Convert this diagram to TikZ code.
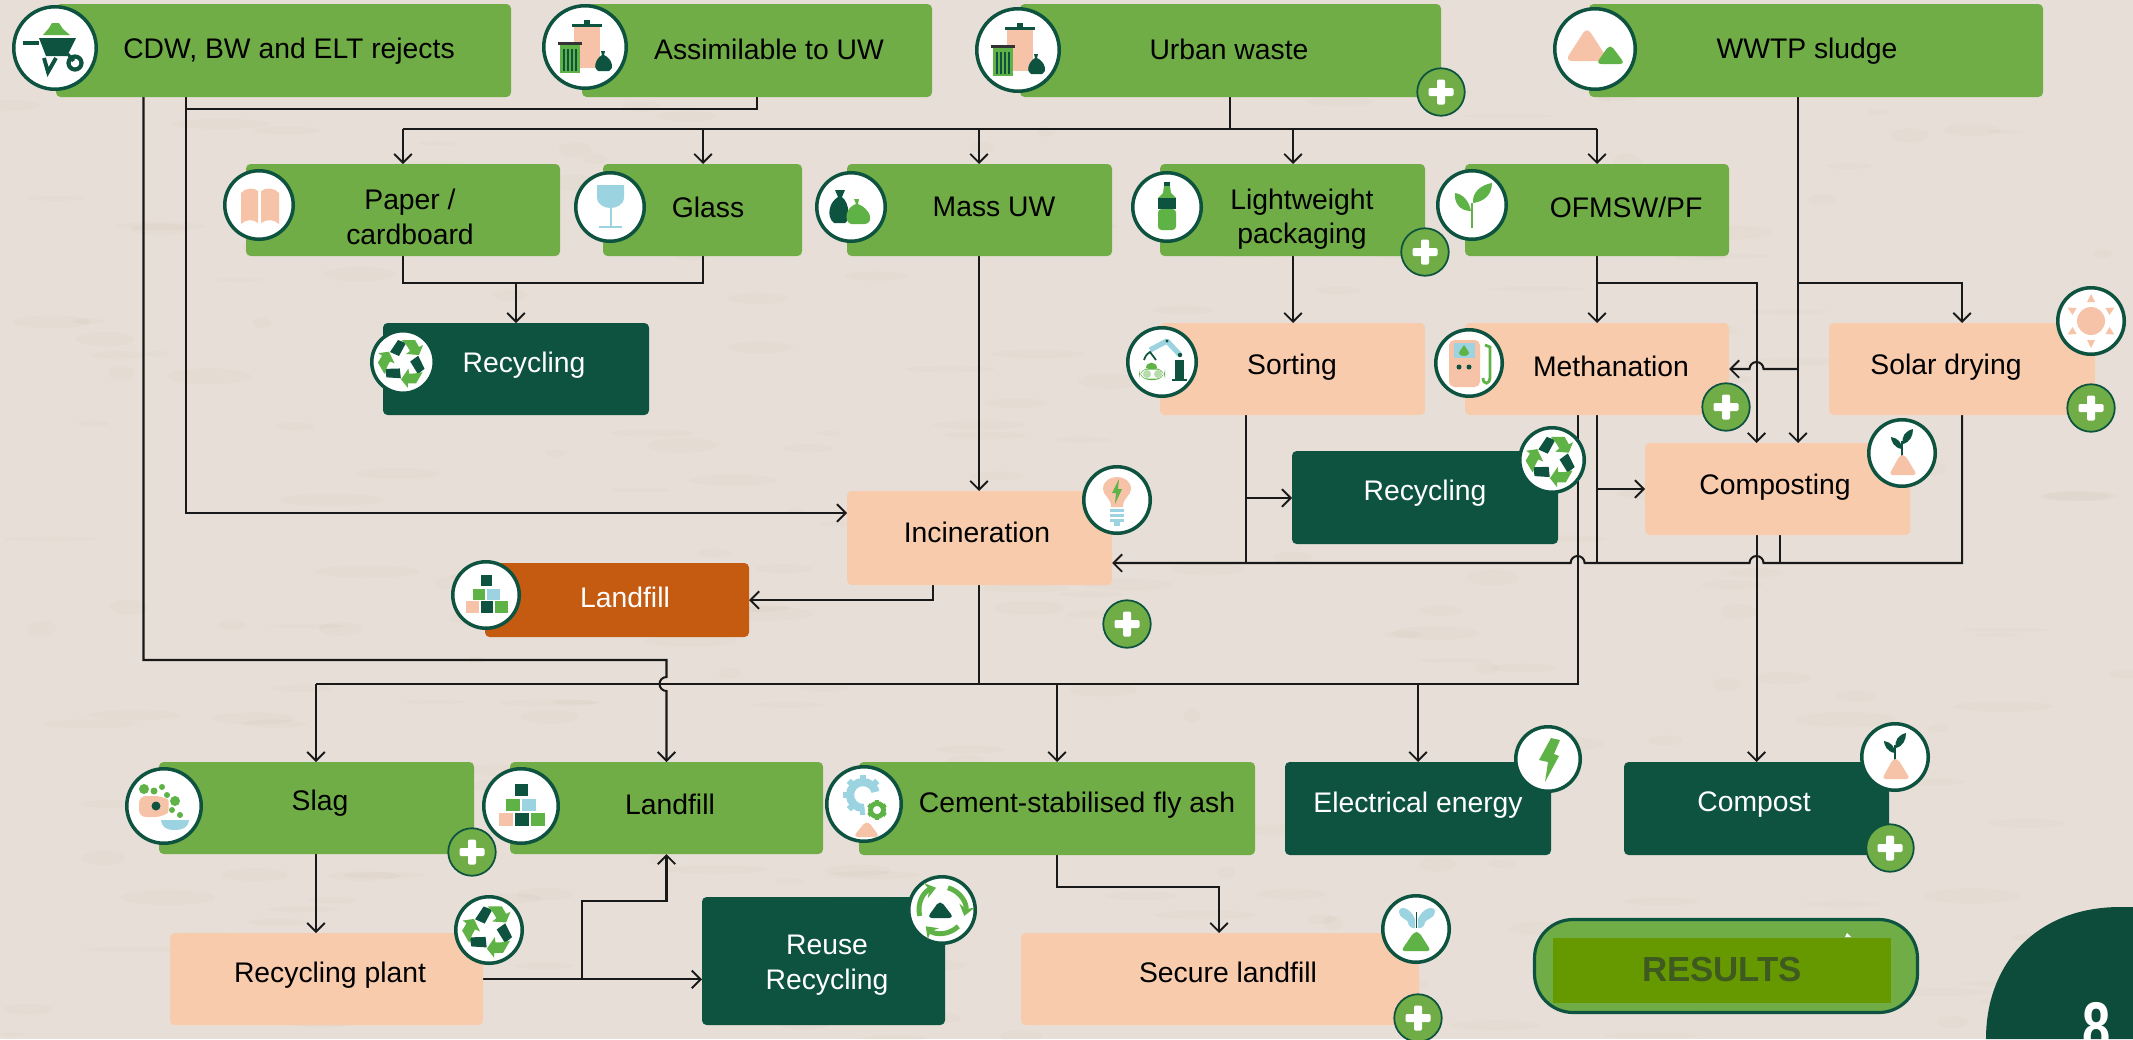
\documentclass[tikz,border=0pt]{standalone}
\usepackage{fontspec}
\setmainfont{Liberation Sans}
\usetikzlibrary{arrows.meta,calc}
\definecolor{gn}{HTML}{70AD47}
\definecolor{dk}{HTML}{0E5340}
\definecolor{pc}{HTML}{F8CBAD}
\definecolor{orng}{HTML}{C55A11}
\definecolor{paper}{HTML}{E7DFD7}
\definecolor{ign}{HTML}{5FB246}
\definecolor{blu}{HTML}{9BD3E0}
\definecolor{ipc}{HTML}{F6C3A9}
\definecolor{resin}{HTML}{669900}
\definecolor{restx}{HTML}{3E5A20}
\pgfdeclarelayer{back}
\pgfdeclarelayer{lines}
\pgfsetlayers{back,lines,main}
\tikzset{
  boxbase/.style={rectangle,rounded corners=1.3pt,inner sep=0pt,outer sep=0pt},
  boxg/.style={boxbase,fill=gn},
  boxd/.style={boxbase,fill=dk},
  boxp/.style={boxbase,fill=pc},
  boxo/.style={boxbase,fill=orng},
  txtk/.style={inner sep=0pt,align=center,font=\fontsize{8.05}{9.8}\selectfont},
  iconc/.style={circle,fill=white,draw=dk,line width=1pt,inner sep=0pt,outer sep=0pt},
  plusc/.style={circle,fill=gn,draw=dk,line width=.5pt,inner sep=0pt,outer sep=0pt,minimum size=13.5pt},
  conn/.style={draw=black!90,line width=.58pt,line join=miter},
  arr/.style={conn,-{Straight Barb[length=2.5pt,width=5pt,line width=.55pt]}},
  pics/ictrash/.style={code={
    \fill[ipc] (-11,-20) rectangle (15,21);
    \fill[dk] (-13,-23) rectangle (17,-20);
    \fill[dk] (-1,-27) rectangle (5,-23);
    \fill[ign] (-25,-2) rectangle (-5,26);
    \fill[black!80] (-27,-5) rectangle (-3,-2);
    \foreach \q in {-22,-18,-14,-10}{\fill[dk] (\q,2) rectangle (\q+1.5,24);}
    \fill[dk] (16,4) -- (20,4) -- (19,8) .. controls (28,12) and (29,23) .. (24,24) -- (13,24) .. controls (8,22) and (10,12) .. (17,8) -- cycle;
  }},
  pics/icbarrow/.style={code={
    \fill[ign] (-12,-13) -- (-6,-20) -- (-3,-25) -- (4,-25) -- (8,-19) -- (15,-13) -- cycle;
    \fill[dk] (-16,-10) -- (21,-10) -- (12,8) -- (-9,8) -- cycle;
    \fill[dk] (-32,-7) rectangle (-16,-3);
    \draw[dk,line width=1.1pt] (-11,10) -- (-7,24) -- (1,10);
    \draw[dk,line width=1.2pt] (20,15) circle (6.5);
    \fill[dk] (11,6) -- (14,5) -- (20,12) -- (17,14) -- cycle;
  }},
  pics/icbook/.style={code={
    \fill[ipc] (-18,-12) .. controls (-14,-17) and (-5,-18) .. (-1,-14) -- (-1,18) .. controls (-6,14) and (-13,14) .. (-18,19) -- cycle;
    \fill[ipc] (20,-12) .. controls (16,-17) and (7,-18) .. (2,-14) -- (2,18) .. controls (7,14) and (15,14) .. (20,19) -- cycle;
  }},
  pics/icglass/.style={code={
    \fill[blu] (-13,-22) -- (14,-22) -- (14,-10) .. controls (14,-2) and (6,1) .. (.5,1) .. controls (-5,1) and (-13,-2) .. (-13,-10) -- cycle;
    \fill[blu] (-.5,0) rectangle (1.5,19);
    \fill[blu] (-11,18.5) rectangle (12,21);
  }},
  pics/icbag/.style={code={
    \fill[dk] (-16,-17) -- (-6,-17) -- (-9,-10) .. controls (-1,-4) and (-1,14) .. (-6,16) -- (-17,16) .. controls (-25,10) and (-22,-5) .. (-13,-10) -- cycle;
    \fill[ign] (3,-8) -- (8,-8) -- (7,-3) .. controls (20,2) and (23,16) .. (14,17) -- (0,17) .. controls (-8,14) and (-5,0) .. (5,-3) -- cycle;
  }},
  pics/icbottle/.style={code={
    \fill[dk] (-3,-25) rectangle (3,-21);
    \fill[ign] (-3,-21) -- (3,-21) -- (4,-14) -- (9,-9) -- (-9,-9) -- (-4,-14) -- cycle;
    \fill[dk] (-9,-9) rectangle (9,2);
    \fill[ign,rounded corners=1pt] (-9,2) -- (9,2) -- (9,23) -- (-9,23) -- cycle;
  }},
  pics/icsprout/.style={code={
    \draw[ign,line width=.8pt] (0,23) -- (0,-2);
    \fill[ign] (-1,6) .. controls (-3,-4) and (-9,-11) .. (-17,-12) .. controls (-18,-3) and (-13,6) .. (-1,6);
    \fill[ign] (1,-2) .. controls (9,-3) and (20,-8) .. (20,-22) .. controls (8,-20) and (0,-12) .. (1,-2);
  }},
  pics/icmount/.style={code={
    \fill[ipc,rounded corners=2pt] (-30,12) -- (-8,-22) -- (14,12) -- cycle;
    \fill[ign,rounded corners=1.5pt] (1,15) -- (15,-5) -- (30,15) -- cycle;
  }},
  pics/icrecycle/.style={code={
    \foreach \a in {0,120,240}{
      \begin{scope}[rotate=\a]
        \fill[dk] (-13,-10) -- (-5,-22) -- (3,-19) -- (-4,-6) -- cycle;
        \fill[ign] (-1,-22) -- (12,-22) -- (16,-15) -- (20,-17) -- (16,-7) -- (3,-8) -- (7,-11) -- (4,-16) -- cycle;
      \end{scope}
    }
  }},
  pics/icgear/.style={code={
    \draw[blu,line width=2.3pt] (-1,-9) circle (13);
    \foreach \a in {0,45,...,315}{\fill[blu,rotate around={\a:(-1,-9)}] (-4,-29) rectangle (2,-23);}
    \fill[white] (-1,-9) -- (24,-15) -- (24,16) -- (2,16) -- cycle;
    \draw[ign,line width=1.4pt] (13,6) circle (6.5);
    \foreach \a in {0,60,...,300}{\fill[ign,rotate around={\a:(13,6)}] (11,-4) rectangle (15,-1);}
    \fill[ipc,rounded corners=1.5pt] (-11,33) -- (3,16) -- (16,33) -- cycle;
  }},
  pics/icblocks/.style={code={
    \fill[dk] (-6,-22) rectangle (7,-10);
    \fill[ign] (-15,-7) rectangle (-1,5);
    \fill[blu] (1,-7) rectangle (15,5);
    \fill[ipc] (-22,7) rectangle (-8,20);
    \fill[dk] (-6,7) rectangle (8,20);
    \fill[ign] (10,7) rectangle (24,20);
  }},
  pics/icslag/.style={code={
    \fill[ipc,rounded corners=2pt] (-25,-10) -- (-2,-10) .. controls (5,-6) and (5,6) .. (-2,11) -- (-25,11) -- cycle;
    \fill[dk] (-8,0) circle (4.5);
    \fill[blu] (-3,14) -- (25,14) .. controls (24,22) and (18,24) .. (11,24) .. controls (3,24) and (-2,22) .. (-3,14) -- cycle;
    \fill[ign] (-20,-17) circle (5);
    \fill[ign] (-10,-15) circle (3.5);
    \fill[ign] (-2,-19) circle (3);
    \fill[ign] (3,-11) circle (3);
    \fill[ign] (11,-5) circle (5);
    \fill[ign] (8,4) circle (3);
    \fill[ign] (16,9) circle (3);
  }},
  pics/icsun/.style={code={
    \fill[ipc] (0,0) circle (14);
    \foreach \a in {0,60,...,300}{\fill[ipc,rotate=\a] (-4,-19) -- (4,-19) -- (0,-27) -- cycle;}
  }},
  pics/icrobot/.style={code={
    \fill[ign] (-16,6) .. controls (-16,-1) and (-5,-1) .. (-5,6) -- cycle;
    \fill[ign,rounded corners=3pt] (-23,6) rectangle (3,18);
    \fill[white,rounded corners=2pt] (-21.5,7.5) rectangle (1.5,16.5);
    \fill[ign!45] (-15,12) circle (4);
    \fill[ign!45] (-4,12) circle (4);
    \draw[blu,line width=1.5pt,line join=round] (-12,-12) -- (5,-21) -- (18,-7);
    \draw[dk,line width=.5pt] (-18,-2) .. controls (-16,-7) .. (-12,-10) .. controls (-9,-7) .. (-6,-2);
    \fill[dk] (13,-2) rectangle (22,17);
    \fill[dk] (10,17) rectangle (25,19);
    \fill[dk] (5,-21) circle (1.6);
    \fill[dk] (18,-7) circle (2.2);
  }},
  pics/icmeth/.style={code={
    \fill[ipc,rounded corners=1.5pt] (-20,-23) rectangle (11,24);
    \fill[blu] (-15,-20) rectangle (6,-5);
    \fill[ign] (-5,-18) .. controls (-2,-13) and (0,-12) .. (0,-10) .. controls (0,-6) and (-10,-6) .. (-10,-10) .. controls (-10,-12) and (-8,-13) .. (-5,-18) -- cycle;
    \fill[dk] (-10,4) circle (2.5);
    \fill[dk] (0,4) circle (2.5);
    \draw[ign,line width=.8pt] (16,-18) -- (21,-16) -- (21,14) .. controls (21,22) and (14,22) .. (14,15);
  }},
  pics/icbulb/.style={code={
    \fill[ipc] (-6,7) .. controls (-6,-3) and (-14,-4) .. (-14,-11) .. controls (-14,-27) and (14,-27) .. (14,-11) .. controls (14,-4) and (6,-3) .. (6,7) -- cycle;
    \fill[ign] (2,-21) -- (-5,-7) -- (-1,-7) -- (-2,4) -- (5,-11) -- (1,-11) -- cycle;
    \foreach \q in {9,14,19}{\fill[blu] (-7,\q) rectangle (7,\q+3.4);}
    \fill[blu] (-3,22) rectangle (3,26);
  }},
  pics/icflask/.style={code={
    \draw[dk,line width=.6pt] (0,8) -- (0,-12);
    \fill[dk] (0,-4) .. controls (-8,-5) and (-11,-12) .. (-11,-16) .. controls (-4,-15) and (0,-10) .. (0,-4);
    \fill[dk] (1,-9) .. controls (8,-11) and (11,-17) .. (11,-24) .. controls (3,-22) and (-1,-16) .. (1,-9);
    \fill[ipc,rounded corners=1pt] (-2,2) -- (3,2) -- (15,22) -- (-13,22) -- cycle;
  }},
  cyc/.style={ign,line width=1.4pt,-{Stealth[length=3pt,width=4.4pt]}},
  pics/iccycle/.style={code={
    \fill[dk,rounded corners=1.5pt] (-15,8) -- (-2,-10) -- (12,8) -- cycle;
    \draw[cyc] ({23*cos(165)},{23*sin(165)}) arc[start angle=165,end angle=255,radius=23];
    \draw[cyc] ({23*cos(285)},{23*sin(285)}) arc[start angle=285,end angle=375,radius=23];
    \draw[cyc] ({23*cos(45)},{23*sin(45)}) arc[start angle=45,end angle=135,radius=23];
  }},
  pics/icbolt/.style={code={
    \fill[ign] (3,-21) -- (12,-19) -- (6,-5) -- (11,-3) -- (-3,23) -- (0,3) -- (-9,1) -- cycle;
  }},
  pics/icfly/.style={code={
    \fill[blu] (-1,-10) .. controls (-6,-22) and (-17,-24) .. (-17,-17) .. controls (-17,-11) and (-8,-9) .. (-8,-7) .. controls (-8,-3) and (-4,0) .. (-1,-1) -- cycle;
    \fill[blu] (2,-10) .. controls (7,-22) and (19,-24) .. (19,-17) .. controls (19,-11) and (9,-9) .. (9,-7) .. controls (9,-3) and (5,0) .. (2,-1) -- cycle;
    \fill[dk] (0,-17) rectangle (1,-1);
    \fill[ign,rounded corners=1pt] (-2,3) -- (3,3) -- (15,22) -- (-15,22) -- cycle;
  }},
}
\def\bxdark{boxd}\def\bxorange{boxo}
\newcommand{\bx}[9]{%
  \def\bxcur{#2}\colorlet{bxtx}{black}%
  \ifx\bxcur\bxdark\colorlet{bxtx}{white}\fi
  \ifx\bxcur\bxorange\colorlet{bxtx}{white}\fi
  \node[#2,minimum width={(#5-#3)*0.01cm},minimum height={(#6-#4)*0.01cm}] (#1) at ({(#3+#5)/2},{(#4+#6)/2}) {};
  \node[txtk,text=bxtx] (#1t) at (#7,{#8+2}) {#9};
}
\newcommand{\icn}[6]{% name x y r pic scale
  \node[iconc,minimum size={(2*#4-3.5)*0.01cm}] (#1) at (#2,#3) {};
  \pic[scale=#6] at (#1.center) {#5};
}
\newcommand{\plusb}[3]{%
  \node[plusc] (#1) at (#2,#3) {};
  \fill[white,rounded corners=.4pt] ($(#1.center)+(-12.5,-4)$) rectangle ($(#1.center)+(12.5,4)$);
  \fill[white,rounded corners=.4pt] ($(#1.center)+(-4,-12.5)$) rectangle ($(#1.center)+(4,12.5)$);
}
\begin{document}
\begin{tikzpicture}[x=0.01cm,y=-0.01cm]
\useasboundingbox (0,0) rectangle (2133,1039);
\begin{pgfonlayer}{back}
\fill[paper] (0,0) rectangle (2133,1039);
\pgfmathsetseed{11}
\foreach \i in {1,...,700}{
  \pgfmathsetmacro\xa{rnd*2133}\pgfmathsetmacro\ya{rnd*1039}
  \pgfmathsetmacro\ra{8+rnd*45}\pgfmathsetmacro\rb{2+rnd*6}
  \pgfmathparse{rnd>.45?"white":"black!45!brown"}\edef\ca{\pgfmathresult}
  \fill[color=\ca,opacity=.022] (\xa,\ya) ellipse [x radius=\ra,y radius=\rb];
}
\end{pgfonlayer}
% --- boxes
\bx{cdw}{boxg}{56}{4}{511}{97}{289}{49}{CDW, BW and ELT rejects}
\bx{assim}{boxg}{582}{4}{932}{97}{769}{47}{Assimilable to UW}
\bx{urban}{boxg}{1020}{4}{1441}{97}{1229}{47}{Urban waste}
\bx{wwtp}{boxg}{1589}{4}{2043}{97}{1807}{49}{WWTP sludge}
\bx{paperb}{boxg}{246}{164}{560}{256}{410}{215}{Paper /\\cardboard}
\bx{glass}{boxg}{603}{164}{802}{256}{708}{205}{Glass}
\bx{mass}{boxg}{847}{164}{1112}{256}{994}{205}{Mass UW}
\bx{light}{boxg}{1160}{164}{1425}{256}{1302}{217}{Lightweight\\packaging}
\bx{ofmsw}{boxg}{1465}{164}{1729}{256}{1626}{205}{OFMSW/PF}
\bx{recA}{boxd}{383}{323}{649}{415}{524}{363}{Recycling}
\bx{sort}{boxp}{1160}{323}{1425}{415}{1292}{365}{Sorting}
\bx{meth}{boxp}{1465}{323}{1729}{415}{1611}{364}{Methanation}
\bx{solar}{boxp}{1829}{323}{2095}{415}{1946}{365}{Solar drying}
\bx{recB}{boxd}{1292}{451}{1558}{544}{1425}{491}{Recycling}
\bx{comp}{boxp}{1645}{443}{1910}{535}{1775}{485}{Composting}
\bx{incin}{boxp}{847}{491}{1112}{585}{977}{530}{Incineration}
\bx{landA}{boxo}{485}{563}{749}{637}{625}{595}{Landfill}
\bx{slag}{boxg}{159}{762}{474}{854}{320}{801}{Slag}
\bx{landB}{boxg}{510}{762}{823}{854}{670}{802}{Landfill}
\bx{cement}{boxg}{859}{762}{1255}{855}{1077}{803}{Cement-stabilised fly ash}
\bx{elec}{boxd}{1285}{762}{1551}{855}{1418}{803}{Electrical energy}
\bx{compost}{boxd}{1624}{762}{1889}{855}{1754}{803}{Compost}
\bx{rplant}{boxp}{170}{933}{483}{1025}{330}{973}{Recycling plant}
\bx{reuse}{boxd}{702}{897}{945}{1025}{827}{963}{Reuse\\Recycling}
\bx{secure}{boxp}{1021}{933}{1419}{1025}{1228}{970}{Secure landfill}
% --- connectors
\begin{pgfonlayer}{lines}
\draw[arr] (143.5,0 |- cdw.south) -- (143.5,660) -- (666.5,660) -- (666.5,677) arc[start angle=-90,end angle=-270,radius=7] -- (666.5,0 |- landB.north);
\draw[arr] (185.6,0 |- cdw.south) -- (185.6,513) -- (incin.west |- 0,513);
\draw[conn] (757,0 |- assim.south) -- (757,109) -- (185.6,109);
\draw[conn] (1230,0 |- urban.south) -- (1230,129);
\draw[conn] (403,129) -- (1597,129);
\draw[arr] (403,129) -- (403,0 |- paperb.north);
\draw[arr] (703,129) -- (703,0 |- glass.north);
\draw[arr] (979,129) -- (979,0 |- mass.north);
\draw[arr] (1293,129) -- (1293,0 |- light.north);
\draw[arr] (1597,129) -- (1597,0 |- ofmsw.north);
\draw[conn] (403,0 |- paperb.south) -- (403,283) -- (703,283) -- (703,0 |- glass.south);
\draw[arr] (516,283) -- (516,0 |- recA.north);
\draw[arr] (979,0 |- mass.south) -- (979,0 |- incin.north);
\draw[arr] (1293,0 |- light.south) -- (1293,0 |- sort.north);
\draw[arr] (1597,0 |- ofmsw.south) -- (1597,0 |- meth.north);
\draw[arr] (1597,283) -- (1756.5,283) -- (1756.5,0 |- comp.north);
\draw[arr] (1798,0 |- wwtp.south) -- (1798,0 |- comp.north);
\draw[arr] (1798,283) -- (1962,283) -- (1962,0 |- solar.north);
\draw[arr] (1798,369) -- (1763.5,369) arc[start angle=0,end angle=-180,radius=7] -- (meth.east |- 0,369);
\draw[conn] (1246,0 |- sort.south) -- (1246,563);
\draw[arr] (1246,498) -- (recB.west |- 0,498);
\draw[arr] (1962,0 |- solar.south) -- (1962,563) -- (1763.5,563) arc[start angle=0,end angle=-180,radius=7] -- (1584.6,563) arc[start angle=0,end angle=-180,radius=7] -- (incin.east |- 0,563);
\draw[conn] (1597,0 |- meth.south) -- (1597,563);
\draw[arr] (1597,489) -- (comp.west |- 0,489);
\draw[conn] (1577.6,0 |- meth.south) -- (1577.6,684) -- (316,684);
\draw[arr] (316,684) -- (316,0 |- slag.north);
\draw[arr] (1057,684) -- (1057,0 |- cement.north);
\draw[arr] (1418,684) -- (1418,0 |- elec.north);
\draw[conn] (979,0 |- incin.south) -- (979,684);
\draw[arr] (1756.5,0 |- comp.south) -- (1756.5,0 |- compost.north);
\draw[conn] (1780,0 |- comp.south) -- (1780,563);
\draw[arr] (933,0 |- incin.south) -- (933,600) -- (landA.east |- 0,600);
\draw[arr] (316,0 |- slag.south) -- (316,0 |- rplant.north);
\draw[arr] (1057,0 |- cement.south) -- (1057,887) -- (1219,887) -- (1219,0 |- secure.north);
\draw[arr] (rplant.east |- 0,979.4) -- (reuse.west |- 0,979.4);
\draw[arr] (582,979.4) -- (582,901) -- (666.5,901) -- (666.5,0 |- landB.south);
\end{pgfonlayer}
% --- icons
\icn{iCdw}{55}{48}{43}{icbarrow}{1}
\icn{iAss}{585}{47}{43}{ictrash}{1}
\icn{iUrb}{1018}{50}{43}{ictrash}{1}
\icn{iWwt}{1595}{49}{42}{icmount}{1}
\icn{iPap}{259}{205}{36}{icbook}{1}
\icn{iGla}{610}{207}{36}{icglass}{1}
\icn{iMas}{851}{207}{36}{icbag}{1}
\icn{iLig}{1167}{207}{36}{icbottle}{1}
\icn{iOfm}{1472}{205}{36}{icsprout}{1}
\icn{iRecA}{403}{362}{33}{icrecycle}{1}
\icn{iSor}{1162}{362}{36}{icrobot}{1}
\icn{iMet}{1469}{363}{35}{icmeth}{1}
\icn{iSol}{2091}{321}{35}{icsun}{1}
\icn{iRecB}{1552}{460}{34}{icrecycle}{1.05}
\icn{iCom}{1902}{453}{35}{icflask}{1}
\icn{iInc}{1117}{500}{35}{icbulb}{1}
\icn{iLanA}{486}{595}{35}{icblocks}{.9}
\icn{iSla}{164}{806}{39}{icslag}{1}
\icn{iLanB}{521}{806}{39}{icblocks}{1}
\icn{iCem}{864}{804}{39}{icgear}{1}
\icn{iEle}{1548}{759}{34}{icbolt}{1}
\icn{iCos}{1895}{757}{35}{icflask}{1}
\icn{iRpl}{489}{930}{35}{icrecycle}{1.07}
\icn{iReu}{942}{910}{35}{iccycle}{1}
\icn{iSec}{1416}{929}{35}{icfly}{1}
% --- plus badges
\plusb{pUrb}{1441}{92}
\plusb{pLig}{1425}{252}
\plusb{pMet}{1726}{407}
\plusb{pSol}{2091}{408}
\plusb{pInc}{1127}{624}
\plusb{pSla}{472}{852}
\plusb{pCos}{1890}{848}
\plusb{pSec}{1418}{1018}
% --- results button
\node[rectangle,rounded corners=11pt,fill=gn,draw=dk,line width=.9pt,inner sep=0pt,minimum width={383*0.01cm},minimum height={93*0.01cm}] (resbtn) at (1726,966) {};
\node[rectangle,fill=resin,inner sep=0pt,minimum width={338*0.01cm},minimum height={65*0.01cm},font=\fontsize{9.9}{12}\selectfont\bfseries,text=restx] (res) at (1722,970) {RESULTS};
\fill[white] (1845,937) -- (1847,933) -- (1851,937) -- cycle;
% --- page tab
\fill[dk!92!black] (1986,1039) .. controls (1986,960) and (2040,907) .. (2120,907) -- (2133,907) -- (2133,1039) -- cycle;
\node[inner sep=0pt,text=white,font=\fontsize{20}{24}\selectfont\bfseries,xscale=.72] (pg) at (2097,1027) {8};
\end{tikzpicture}
\end{document}
